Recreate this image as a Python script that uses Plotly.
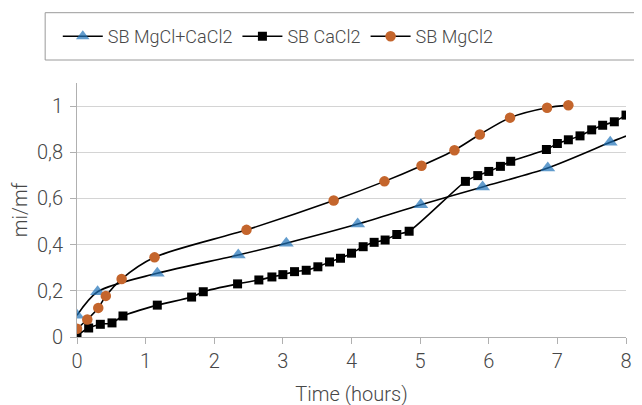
import plotly.graph_objects as go

# SB MgCl+CaCl2 (triangles); last point is the end of the trend line (no marker)
tri_x = [0.0, 0.30, 1.17, 2.35, 3.05, 4.09, 5.01, 5.91, 6.86, 7.77, 8.0]
tri_y = [0.094, 0.196, 0.276, 0.355, 0.406, 0.489, 0.573, 0.650, 0.732, 0.843, 0.870]

# SB CaCl2 (squares)
sq_x = [0.0, 0.17, 0.34, 0.51, 0.67, 1.17, 1.67, 1.84, 2.34, 2.65, 2.84, 3.0, 3.17,
        3.34, 3.51, 3.68, 3.84, 4.0, 4.17, 4.33, 4.49, 4.66, 4.84, 5.66, 5.84, 6.0,
        6.17, 6.32, 6.84, 7.0, 7.16, 7.33, 7.5, 7.66, 7.83, 8.0]
sq_y = [0.007, 0.039, 0.055, 0.061, 0.091, 0.138, 0.173, 0.196, 0.230, 0.247, 0.260,
        0.270, 0.283, 0.289, 0.304, 0.325, 0.341, 0.363, 0.391, 0.410, 0.420, 0.444,
        0.458, 0.674, 0.699, 0.717, 0.739, 0.761, 0.812, 0.838, 0.854, 0.871, 0.897,
        0.917, 0.932, 0.961]

# SB MgCl2 (circles)
ci_x = [0.0, 0.15, 0.31, 0.42, 0.65, 1.13, 2.47, 3.74, 4.48, 5.02, 5.50, 5.87, 6.31, 6.85, 7.16]
ci_y = [0.036, 0.076, 0.126, 0.178, 0.251, 0.345, 0.464, 0.591, 0.674, 0.742, 0.809,
        0.877, 0.950, 0.993, 1.004]

FONT = "Roboto, sans-serif"
TXT = "#474747"
BLUE = "#1f72b8"
ORANGE = "#c4652c"

fig = go.Figure()

tri_sizes = [13] * (len(tri_x) - 1) + [0]
fig.add_trace(go.Scatter(
    x=tri_x, y=tri_y, mode="lines+markers", name="SB MgCl+CaCl2",
    line=dict(color="black", width=1.6, shape="spline", smoothing=0.8),
    marker=dict(symbol="triangle-up", size=tri_sizes, color=BLUE, line=dict(width=0)),
))
fig.add_trace(go.Scatter(
    x=sq_x, y=sq_y, mode="lines+markers", name="SB CaCl2",
    line=dict(color="black", width=1.6, shape="spline", smoothing=0.6),
    marker=dict(symbol="square", size=9, color="black", line=dict(width=0)),
))
fig.add_trace(go.Scatter(
    x=ci_x, y=ci_y, mode="lines+markers", name="SB MgCl2",
    line=dict(color="black", width=1.6, shape="spline", smoothing=0.8),
    marker=dict(symbol="circle", size=10.5, color=ORANGE, line=dict(width=0)),
))

# page body adds an 8px offset; margins compensate so the plot area lands at the reference spot
fig.add_shape(type="rect", xref="paper", yref="paper",
              x0=-0.058, x1=1.1, y0=1 + (83 - 60) / 254, y1=1 + (83 - 12.7) / 254,
              line=dict(color="#9a9a9a", width=1), fillcolor="rgba(0,0,0,0)", layer="below")

fig.update_layout(
    width=642, height=405,
    margin=dict(l=69, r=24, t=75, b=76, autoexpand=False),
    paper_bgcolor="white", plot_bgcolor="white",
    separators=",.",
    font=dict(family=FONT, size=19, color=TXT, weight=300),
    showlegend=True,
    legend=dict(orientation="h", x=-0.035, xanchor="left", y=1 + (83 - 36.5) / 254, yanchor="middle",
                font=dict(family=FONT, size=18, color=TXT, weight=300), bgcolor="rgba(0,0,0,0)",
                itemwidth=40, tracegroupgap=0),
    xaxis=dict(range=[0, 8], dtick=1, showgrid=False, zeroline=False, automargin=False,
               showline=True, linecolor="#b0b0b0", linewidth=1,
               ticks="outside", ticklen=6, tickcolor="#b0b0b0",
               tickfont=dict(size=20, color=TXT, weight=300),
               title=dict(text="Time (hours)", font=dict(size=20, color=TXT, weight=300), standoff=14)),
    yaxis=dict(range=[0, 1.1], tickvals=[0, 0.2, 0.4, 0.6, 0.8, 1.0], automargin=False,
               showgrid=True, gridcolor="#d4d4d4", gridwidth=1, zeroline=False,
               showline=True, linecolor="#b0b0b0", linewidth=1,
               ticks="outside", ticklen=6, tickcolor="#b0b0b0", ticklabelstandoff=3,
               tickfont=dict(size=20, color=TXT, weight=300),
               title=dict(text="mi/mf", font=dict(size=20, color=TXT, weight=300), standoff=8)),
)

fig.write_html("out.html")
